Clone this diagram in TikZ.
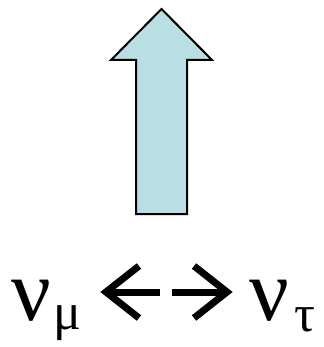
\documentclass[tikz,border=0pt]{standalone}
\usepackage{fontspec}
\setmainfont{Liberation Serif}
\usepackage{xcolor}
\usepackage{tikz}
\usetikzlibrary{arrows.meta,positioning,calc}
\definecolor{upfill}{RGB}{185,223,226}

\begin{document}
\begin{tikzpicture}[x=1pt,y=-1pt,
  nu/.style={inner sep=0pt,font=\fontsize{88}{88}\selectfont},
  osc/.style={line width=7pt,line join=miter}]
 \useasboundingbox (0,0) rectangle (323,347);
 % big upward arrow
 \draw[line width=2pt,fill=upfill,line join=miter]
   (161.5,9) -- (212,60) -- (187,60) -- (187,214) -- (136,214) -- (136,60) -- (111,60) -- cycle;
 \node[nu,anchor=base west] (numu) at (11,320) {ν\kern3pt\raisebox{-9pt}{\fontsize{52}{52}\selectfont μ}};
 \node[nu,anchor=base west] (nutau) at (249,320) {ν\kern6pt\raisebox{-11pt}{\fontsize{52}{52}\selectfont τ}};
 \coordinate (ml) at (160,292);
 \coordinate (mr) at (172,292);
 \coordinate (tl) at (106,292);
 \coordinate (tr) at (227,292);
 \draw[osc] (ml) -- (tl);
 \draw[osc] ($(tl)+(33,-26)$) -- (tl) -- ($(tl)+(33,26)$);
 \draw[osc] (mr) -- (tr);
 \draw[osc] ($(tr)+(-33,-26)$) -- (tr) -- ($(tr)+(-33,26)$);
\end{tikzpicture}
\end{document}
